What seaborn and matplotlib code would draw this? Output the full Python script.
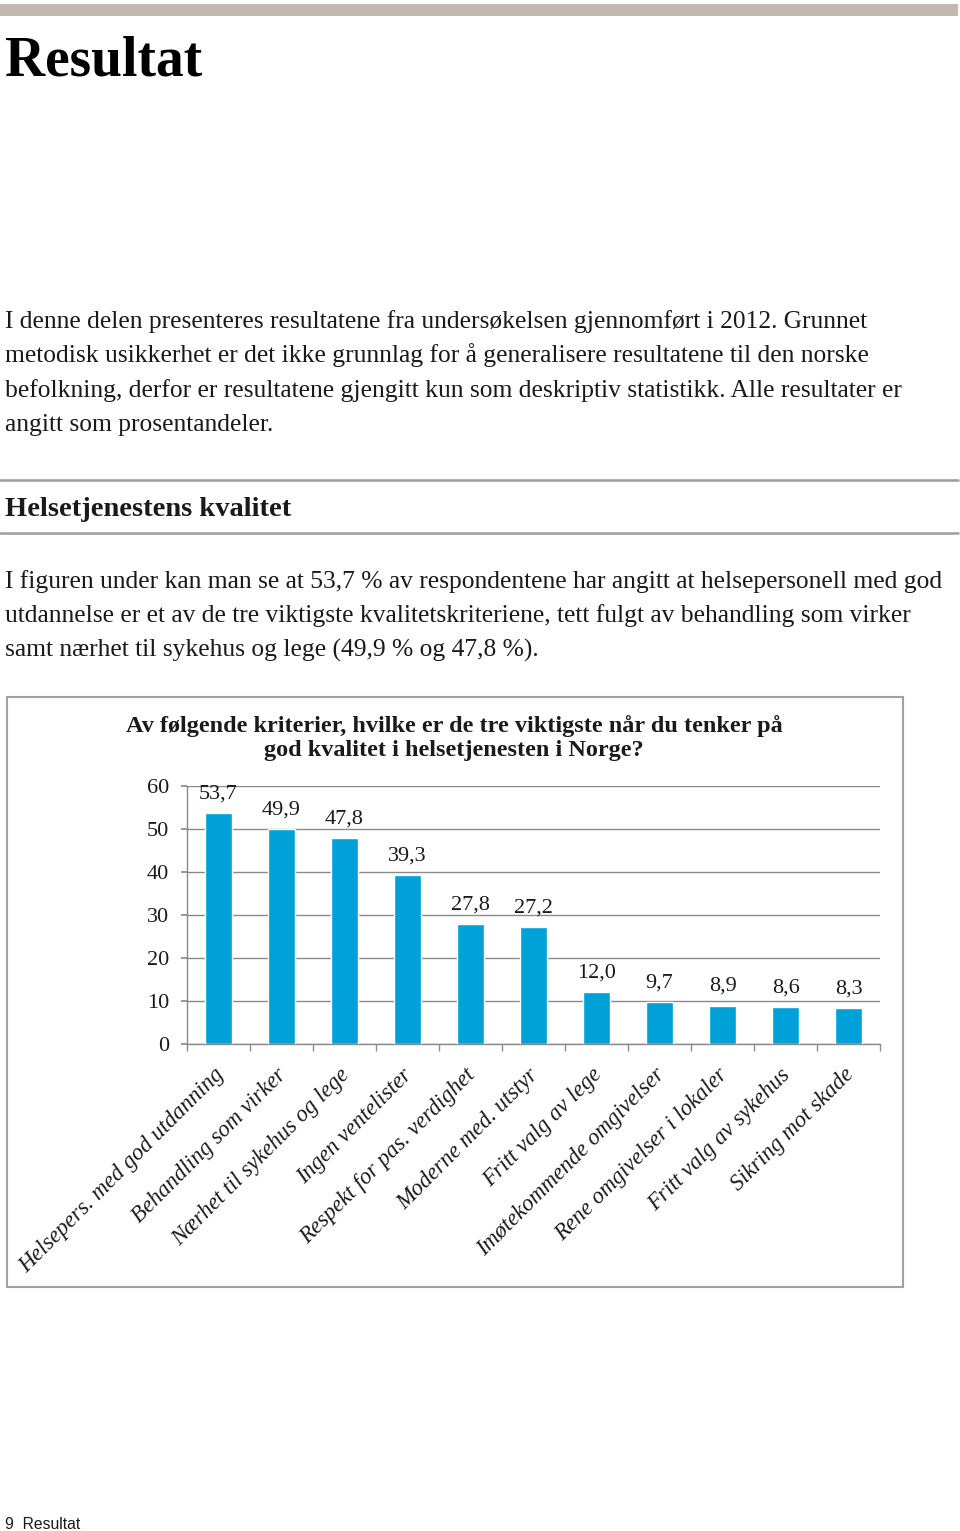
import matplotlib
matplotlib.use("Agg")
import matplotlib.pyplot as plt
import seaborn as sns
import numpy as np
import pandas as pd
from matplotlib.patches import Rectangle
from matplotlib.lines import Line2D
from matplotlib.transforms import ScaledTranslation

# ---------------- data ----------------
categories = [
    "Helsepers. med god utdanning",
    "Behandling som virker",
    "Nærhet til sykehus og lege",
    "Ingen ventelister",
    "Respekt for pas. verdighet",
    "Moderne med. utstyr",
    "Fritt valg av lege",
    "Imøtekommende omgivelser",
    "Rene omgivelser i lokaler",
    "Fritt valg av sykehus",
    "Sikring mot skade",
]
values = [53.7, 49.9, 47.8, 39.3, 27.8, 27.2, 12.0, 9.7, 8.9, 8.6, 8.3]
y_ticks = [0, 10, 20, 30, 40, 50, 60]

page_title = "Resultat"
intro_lines = [
    "I denne delen presenteres resultatene fra undersøkelsen gjennomført i 2012. Grunnet",
    "metodisk usikkerhet er det ikke grunnlag for å generalisere resultatene til den norske",
    "befolkning, derfor er resultatene gjengitt kun som deskriptiv statistikk. Alle resultater er",
    "angitt som prosentandeler.",
]
section_title = "Helsetjenestens kvalitet"
section_lines = [
    "I figuren under kan man se at 53,7 % av respondentene har angitt at helsepersonell med god",
    "utdannelse er et av de tre viktigste kvalitetskriteriene, tett fulgt av behandling som virker",
    "samt nærhet til sykehus og lege (49,9 % og 47,8 %).",
]
chart_title_lines = [
    "Av følgende kriterier, hvilke er de tre viktigste når du tenker på",
    "god kvalitet i helsetjenesten i Norge?",
]
footer = "9  Resultat"

# ---------------- style ----------------
W, H = 960, 1531
sns.set_theme(style="white")
plt.rcParams["font.family"] = ["Liberation Serif", "DejaVu Serif"]
TXT = "#1a1a1a"
GRID = "#8a8a8a"
BAR = "#00A0D8"

fig = plt.figure(figsize=(W / 100, H / 100), dpi=100)


def fx(x):
    return x / W


def fy(y):
    return 1 - y / H


# top decorative bar
fig.patches.append(Rectangle((fx(0), fy(16)), fx(958), 12 / H, transform=fig.transFigure,
                             facecolor="#c4b8b0", edgecolor="none", zorder=0))

# page title
fig.text(fx(5), fy(75), page_title, ha="left", va="baseline", fontsize=40,
         fontweight="bold", color="#000000")

# intro paragraph
for i, line in enumerate(intro_lines):
    fig.text(fx(5), fy(328 + i * 34.4), line, ha="left", va="baseline",
             fontsize=18.4, color=TXT)

# rules and section heading
for ry in (480, 533):
    fig.add_artist(Line2D([fx(0), fx(958)], [fy(ry), fy(ry)], transform=fig.transFigure,
                          color="#a39b95", lw=1.8))
fig.text(fx(5), fy(516), section_title, ha="left", va="baseline", fontsize=20.5,
         fontweight="bold", color=TXT)

for i, line in enumerate(section_lines):
    fig.text(fx(5), fy(588 + i * 34.4), line, ha="left", va="baseline",
             fontsize=18.4, color=TXT)

# chart frame
fig.patches.append(Rectangle((fx(7), fy(1287)), (903 - 7) / W, (1287 - 697) / H,
                             transform=fig.transFigure, facecolor="none",
                             edgecolor="#a0a0a0", lw=1.5, zorder=0))

for i, line in enumerate(chart_title_lines):
    fig.text(fx(454), fy(732 + i * 24), line, ha="center", va="baseline",
             fontsize=17.5, fontweight="bold", color=TXT)

# ---------------- chart ----------------
ax = fig.add_axes([fx(187), fy(1044), (880 - 187) / W, (1044 - 786) / H])
df = pd.DataFrame({"kriterium": categories, "andel": values})
sns.barplot(data=df, x="kriterium", y="andel", order=categories, color=BAR,
            saturation=1, width=0.42, ax=ax, zorder=3)

ax.set_xlim(-0.5, len(categories) - 0.5)
ax.set_ylim(0, 60)
ax.set_yticks(y_ticks)
ax.set_yticklabels([str(t) for t in y_ticks])
ax.set_xlabel("")
ax.set_ylabel("")
ax.yaxis.grid(True, color=GRID, lw=1.0, zorder=0)
ax.set_axisbelow(True)
for s in ("top", "right"):
    ax.spines[s].set_visible(False)
for s in ("left", "bottom"):
    ax.spines[s].set_color(GRID)
    ax.spines[s].set_linewidth(1.0)

ax.tick_params(axis="y", length=4, color=GRID, direction="out", pad=9,
               labelsize=16, labelcolor=TXT, left=True)
ax.set_xticks(np.arange(-0.5, len(categories), 1), minor=True)
ax.tick_params(axis="x", which="minor", length=5, color=GRID, direction="out", bottom=True)
ax.tick_params(axis="x", which="major", length=0, pad=20)
ax.set_xticks(range(len(categories)))
ax.set_xticklabels(categories)
offset = ScaledTranslation(2 / 100, 0, fig.dpi_scale_trans)
for lbl in ax.get_xticklabels():
    lbl.set_rotation(45)
    lbl.set_ha("right")
    lbl.set_va("center")
    lbl.set_rotation_mode("anchor")
    lbl.set_fontstyle("italic")
    lbl.set_fontsize(16.5)
    lbl.set_color(TXT)
    lbl.set_transform(lbl.get_transform() + offset)

labels = [f"{v:.1f}".replace(".", ",") for v in values]
ax.bar_label(ax.containers[0], labels=labels, padding=7, fontsize=16, color=TXT)

# footer
fig.text(fx(5), fy(1529), footer, ha="left", va="baseline", fontsize=11.3,
         family=["Liberation Sans", "DejaVu Sans"], color=TXT)

fig.savefig("out.png", dpi=100)
